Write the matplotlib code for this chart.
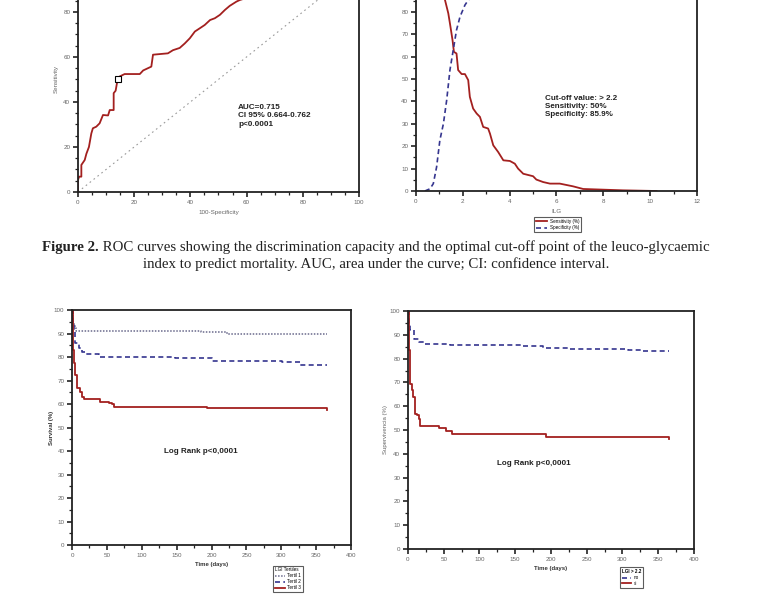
import numpy as np
import matplotlib.pyplot as plt
from matplotlib.ticker import MultipleLocator, FixedLocator

# ROC curve (100-specificity, sensitivity)
roc_fpr = [0, 0, 0.4, 1.2, 1.2, 2.4, 3.0, 3.9, 4.75, 5.3, 6.5, 7.7, 8.9, 10.7, 11.3, 12.7, 12.7,
           13.4, 14.1, 14.8, 16.6, 22.0, 23.2, 24.9, 26.1, 26.7, 32.0, 33.8, 36.2, 38.0, 39.8,
           41.6, 43.3, 45.1, 47.0, 48.7, 50.5, 52.3, 54.0, 56.4, 57.6, 62, 70, 80, 90, 100]
roc_tpr = [0, 5.3, 6.8, 6.8, 12.0, 14.2, 17.0, 20.0, 26.0, 28.3, 29.0, 30.5, 34.2, 34.0, 36.4, 36.4, 43.9,
           45.0, 50.0, 51.3, 52.4, 52.4, 54.0, 55.0, 55.7, 61.0, 61.6, 63.0, 64.0, 66.0, 68.3,
           71.3, 72.7, 74.2, 76.4, 77.2, 78.7, 80.9, 82.7, 84.6, 85.3, 87, 91, 95, 98, 100]
cut_fpr, cut_tpr = 14.1, 50.0

# sensitivity / specificity vs ILG
ilg_sens_x = [0.9, 1.1, 1.24, 1.38, 1.45, 1.56, 1.62, 1.73, 1.80, 1.95, 2.09, 2.23, 2.30, 2.44, 2.59,
              2.73, 2.87, 3.08, 3.16, 3.30, 3.51, 3.73, 4.01, 4.22, 4.36, 4.58, 5.00, 5.14, 5.43,
              5.72, 6.14, 6.70, 7.14, 7.99, 8.84, 10.27]
ilg_sens_y = [96, 90, 85.2, 79.3, 74.8, 67.4, 62.1, 61.4, 54.0, 52.2, 52.2, 49.5, 42.0, 36.8, 34.6,
              33.1, 28.6, 27.9, 25.6, 20.4, 17.4, 13.7, 13.4, 12.2, 10.0, 7.7, 6.6, 5.1, 4.0,
              3.3, 3.3, 2.1, 0.9, 0.6, 0.3, 0.0]
ilg_spec_x = [0.38, 0.60, 0.74, 0.88, 1.02, 1.17, 1.31, 1.45, 1.59, 1.73, 1.88, 2.09, 2.23, 2.5, 3.0]
ilg_spec_y = [0, 1.0, 3.3, 10.7, 22.7, 30.0, 40.5, 54.0, 62.9, 71.8, 77.8, 83.0, 85.2, 88, 92]

# Kaplan-Meier by LGI tertiles
t1_time = [0, 1, 2, 4, 6, 185, 222, 365]
t1_surv = [100, 97, 94, 92.5, 91.2, 90.6, 89.6, 89.6]
t2_time = [0, 1, 2.4, 4.8, 9.6, 14.3, 19, 38, 148, 201, 301, 327, 365]
t2_surv = [100, 95, 90.8, 85.8, 83.7, 82.3, 81.1, 80.1, 79.4, 78.4, 77.7, 76.6, 76.6]
t3_time = [0, 1, 2.4, 4.8, 7.2, 12, 14.3, 16.7, 40.6, 52.6, 57, 60, 193.5, 364, 365]
t3_surv = [100, 83, 77.3, 72.3, 66.7, 65.2, 63.1, 62.0, 61.0, 60.3, 60.0, 58.9, 58.2, 58.2, 57.5]

# Kaplan-Meier by LGI > 2.2
no_time = [0, 1, 3.3, 7.9, 14.9, 21.9, 59, 159, 189.5, 224, 308, 329, 365]
no_surv = [100, 94.7, 91.9, 88.4, 87.0, 86.0, 85.6, 85.2, 84.6, 83.9, 83.5, 83.1, 83.1]
si_time = [0, 1, 1.9, 3, 5.6, 7, 9.3, 10.2, 12.6, 14.9, 16.3, 42.8, 53.5, 61.5, 193, 364, 365]
si_surv = [100, 90.5, 83.5, 69.5, 66.7, 63.9, 59.7, 56.9, 56.2, 54.8, 51.8, 50.8, 49.4, 48.2, 47.1, 47.1, 46.2]

RED = '#a3201f'
BLUE = '#35358f'
GREY = '#666666'


def style_axes(ax, xmaj, xmin, ymaj, ymin):
    for s in ax.spines.values():
        s.set_linewidth(1.3)
        s.set_color('#222222')
    ax.xaxis.set_major_locator(MultipleLocator(xmaj))
    ax.xaxis.set_minor_locator(MultipleLocator(xmin))
    ax.yaxis.set_major_locator(MultipleLocator(ymaj))
    ax.yaxis.set_minor_locator(MultipleLocator(ymin))
    ax.tick_params(which='major', direction='out', length=3.5, width=1.2, color='#222222',
                   labelsize=4.5, labelcolor=GREY, pad=2)
    ax.tick_params(which='minor', direction='out', length=2, width=0.9, color='#222222')
    ax.tick_params(top=False, right=False, which='both')


fig = plt.figure(figsize=(7.63, 5.98), dpi=100)
plt.rcParams['font.family'] = ['Liberation Sans', 'DejaVu Sans']

# ROC
ax1 = fig.add_axes([0.1022, 0.679, 0.3683, 0.3763])
ax1.plot([0, 100], [0, 100], ls=(0, (1.5, 3)), color='#9a9a9a', lw=0.8)
ax1.plot(roc_fpr, roc_tpr, color=RED, lw=1.3)
ax1.plot([cut_fpr], [cut_tpr], marker='s', ms=4, mfc='white', mec='black', mew=0.8)
ax1.set_xlim(0, 100)
ax1.set_ylim(0, 100)
style_axes(ax1, 20, 5, 20, 5)
# top of the panel is cropped in the figure: only labels up to 80 are visible
ax1.yaxis.set_major_locator(FixedLocator([0, 20, 40, 60, 80]))
ax1.set_xlabel('100-Specificity', fontsize=4.5, color=GREY, labelpad=4)
ax1.set_ylabel('Sensitivity', fontsize=4.5, color=GREY, labelpad=3)
ax1.text(57, 39.0, 'AUC=0.715\nCI 95% 0.664-0.762\np<0.0001', fontsize=5.9, fontweight='bold',
         color='#222222', va='top', ha='left', linespacing=1.25)

# sensitivity / specificity vs ILG
ax2 = fig.add_axes([0.5452, 0.6806, 0.3683, 0.3746])
ax2.plot(ilg_sens_x, ilg_sens_y, color=RED, lw=1.3, label='Sensitivity (%)')
ax2.plot(ilg_spec_x, ilg_spec_y, color=BLUE, lw=1.2, ls=(0, (3, 2)), label='Specificity (%)')
ax2.set_xlim(0, 12)
ax2.set_ylim(0, 100)
style_axes(ax2, 2, 1, 10, 5)
ax2.yaxis.set_major_locator(FixedLocator(list(range(0, 81, 10))))
ax2.set_xlabel('ILG', fontsize=4.5, color=GREY, labelpad=4)
ax2.text(5.5, 43.0, 'Cut-off value: > 2.2\nSensitivity: 50%\nSpecificity: 85.9%', fontsize=5.8,
         fontweight='bold', color='#222222', va='top', ha='left', linespacing=1.25)
ax2.legend(loc='upper left', bbox_to_anchor=(0.697, 0.641), bbox_transform=fig.transFigure,
           fontsize=3.3, frameon=True, fancybox=False, edgecolor='#333333', handlelength=2.5,
           borderpad=0.4, labelspacing=0.3, handletextpad=0.5).get_frame().set_linewidth(0.8)

# caption
r = fig.canvas.get_renderer()
part1 = 'Figure 2.'
part2 = (' ROC curves showing the discrimination capacity and the optimal cut-off point of the '
         'leuco-glycaemic')
cap_kw = dict(fontsize=10.7, family='Liberation Serif', color='#222222', va='center')
t_a = fig.text(0, 0, part1, fontweight='bold', **cap_kw)
t_b = fig.text(0, 0, part2, **cap_kw)
wa = t_a.get_window_extent(r).width
wb = t_b.get_window_extent(r).width
x0 = (376 - (wa + wb) / 2) / 763
y1 = 1 - 247 / 598
t_a.set_position((x0, y1))
t_b.set_position((x0 + wa / 763, y1))
fig.text(376 / 763, 1 - 264 / 598,
         'index to predict mortality. AUC, area under the curve; CI: confidence interval.',
         ha='center', **cap_kw)

# KM by tertiles
ax3 = fig.add_axes([0.0944, 0.0886, 0.3657, 0.393])
ax3.step(t1_time, t1_surv, where='post', color='#6a6a8c', lw=1.1, ls=(0, (1, 1)), label='Tertil 1')
ax3.step(t2_time, t2_surv, where='post', color=BLUE, lw=1.2, ls=(0, (3, 2)), label='Tertil 2')
ax3.step(t3_time, t3_surv, where='post', color=RED, lw=1.3, label='Tertil 3')
ax3.set_xlim(0, 400)
ax3.set_ylim(0, 100)
style_axes(ax3, 50, 25, 10, 5)
ax3.set_xlabel('Time (days)', fontsize=4.3, fontweight='bold', color='#333333', labelpad=3)
ax3.set_ylabel('Survival (%)', fontsize=4.3, fontweight='bold', color='#333333', labelpad=0)
ax3.text(184, 39.7, 'Log Rank p<0,0001', fontsize=5.8, fontweight='bold', color='#222222',
         ha='center', va='center')
leg3 = ax3.legend(loc='upper left', bbox_to_anchor=(0.355, 0.058), bbox_transform=fig.transFigure,
                  title='LGI Tertiles', title_fontsize=3.3, fontsize=3.3, frameon=True, fancybox=False,
                  edgecolor='#333333', handlelength=2.2, borderpad=0.4, labelspacing=0.2,
                  handletextpad=0.5)
leg3.get_frame().set_linewidth(0.8)
leg3._legend_box.align = 'left'

# KM by LGI > 2.2
ax4 = fig.add_axes([0.5347, 0.0819, 0.3748, 0.398])
ax4.step(no_time, no_surv, where='post', color=BLUE, lw=1.2, ls=(0, (3, 2)), label='no')
ax4.step(si_time, si_surv, where='post', color=RED, lw=1.3, label='si')
ax4.set_xlim(0, 400)
ax4.set_ylim(0, 100)
style_axes(ax4, 50, 25, 10, 5)
ax4.set_xlabel('Time (days)', fontsize=4.3, fontweight='bold', color='#333333', labelpad=3)
ax4.set_ylabel('Supervivencia (%)', fontsize=4.3, color=GREY, labelpad=1)
ax4.text(175.6, 35.9, 'Log Rank p<0,0001', fontsize=5.8, fontweight='bold', color='#222222',
         ha='center', va='center')
leg4 = ax4.legend(loc='upper left', bbox_to_anchor=(0.81, 0.055), bbox_transform=fig.transFigure,
                  title='LGI > 2.2', title_fontsize=3.3, fontsize=3.3, frameon=True, fancybox=False,
                  edgecolor='#333333', handlelength=2.0, borderpad=0.4, labelspacing=0.2,
                  handletextpad=0.5)
leg4.get_frame().set_linewidth(0.8)
leg4._legend_box.align = 'left'
leg4.get_title().set_fontweight('bold')

fig.savefig('out.png', dpi=100)
